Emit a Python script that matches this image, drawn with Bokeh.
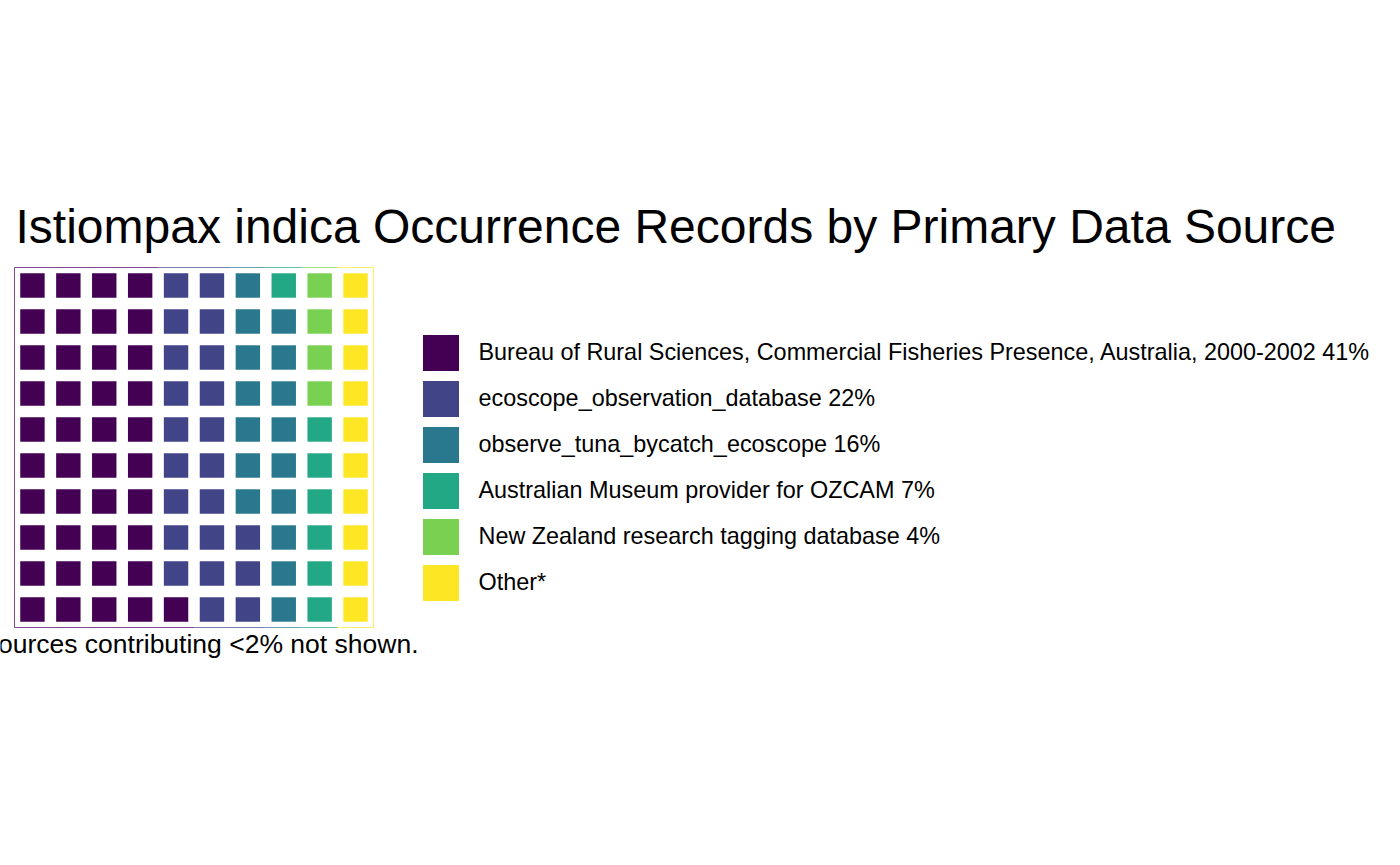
from bokeh.plotting import figure
from bokeh.models import Range1d, Legend, LegendItem, ColumnDataSource
from bokeh.core.properties import value
from bokeh.embed import file_html
from bokeh.resources import INLINE

# ---------------- data ----------------
title_text = "Istiompax indica Occurrence Records by Primary Data Source"
categories = [
    "Bureau of Rural Sciences, Commercial Fisheries Presence, Australia, 2000-2002",
    "ecoscope_observation_database",
    "observe_tuna_bycatch_ecoscope",
    "Australian Museum provider for OZCAM",
    "New Zealand research tagging database",
    "Other*",
]
percents = [41, 22, 16, 7, 4, 10]
show_pct = [True, True, True, True, True, False]
colors = ["#440154", "#414487", "#2A788E", "#22A884", "#7AD151", "#FDE725"]
caption_text = "*Sources contributing <2% not shown."
n_rows = 10
n_cols = 10

# ---------------- layout constants ----------------
W, H = 1400, 865
PX_X = 35.9   # pixels per waffle column
PX_Y = 36.0   # pixels per waffle row
PANEL_LEFT = 14
PANEL_BOTTOM = 627
x0 = 0.5 - PANEL_LEFT / PX_X
y0 = 0.5 - (H - PANEL_BOTTOM) / PX_Y

def px_x(px):
    return x0 + px / PX_X

def px_y(py):
    return y0 + (H - py) / PX_Y

p = figure(width=W, height=H, output_backend="svg", toolbar_location=None,
           x_range=Range1d(x0, x0 + W / PX_X), y_range=Range1d(y0, y0 + H / PX_Y),
           min_border=0, x_axis_location=None, y_axis_location=None,
           outline_line_color=None, background_fill_color="white",
           border_fill_color="white")
p.xgrid.visible = False
p.ygrid.visible = False

# waffle cells: fill column by column, bottom to top
cell_cat = []
for i, n in enumerate(percents):
    cell_cat += [i] * n
grid = {}
renderers = []
for ci, cat in enumerate(categories):
    xs, ys = [], []
    for k, c in enumerate(cell_cat):
        if c == ci:
            col = k // n_rows + 1
            row = k % n_rows + 1
            xs.append(col)
            ys.append(row)
            grid[(col, row)] = colors[ci]
    src = ColumnDataSource(dict(x=xs, y=ys))
    r = p.rect(x="x", y="y", width=0.68, height=0.68 * PX_X / PX_Y, source=src,
               fill_color=colors[ci], line_color=None)
    renderers.append(r)

# thin coloured panel border
for col in range(1, n_cols + 1):
    p.segment(x0=[col - 0.5], y0=[n_rows + 0.5], x1=[col + 0.5], y1=[n_rows + 0.5],
              line_color=grid[(col, n_rows)], line_alpha=0.7, line_width=1)
    p.segment(x0=[col - 0.5], y0=[0.5], x1=[col + 0.5], y1=[0.5],
              line_color=grid[(col, 1)], line_alpha=0.7, line_width=1)
for row in range(1, n_rows + 1):
    p.segment(x0=[0.5], y0=[row - 0.5], x1=[0.5], y1=[row + 0.5],
              line_color=grid[(1, row)], line_alpha=0.7, line_width=1)
    p.segment(x0=[n_cols + 0.5], y0=[row - 0.5], x1=[n_cols + 0.5], y1=[row + 0.5],
              line_color=grid[(n_cols, row)], line_alpha=0.7, line_width=1)

# title
p.text(x=[px_x(15)], y=[px_y(226)], text=[title_text],
       text_font=value("Liberation Sans"), text_font_size="48px",
       text_color="black", text_align="left", text_baseline="alphabetic")

# caption (clipped at left edge like the reference)
p.text(x=[px_x(418)], y=[px_y(643)], text=[caption_text],
       text_font=value("Liberation Sans"), text_font_size="26.5px",
       text_color="black", text_align="right", text_baseline="alphabetic")

# legend
labels = [f"{c} {v}%" if s else c for c, v, s in zip(categories, percents, show_pct)]
items = [LegendItem(label=lab, renderers=[r]) for lab, r in zip(labels, renderers)]
legend = Legend(items=items, location=(417.5, 260), orientation="vertical",
                glyph_width=45, glyph_height=45, spacing=1, padding=0, margin=0,
                label_standoff=16, label_text_font="Liberation Sans",
                label_text_font_size="23.4px", label_text_color="black",
                border_line_color=None, background_fill_alpha=0)
p.add_layout(legend)

open("out.html", "w").write(file_html(p, INLINE))
